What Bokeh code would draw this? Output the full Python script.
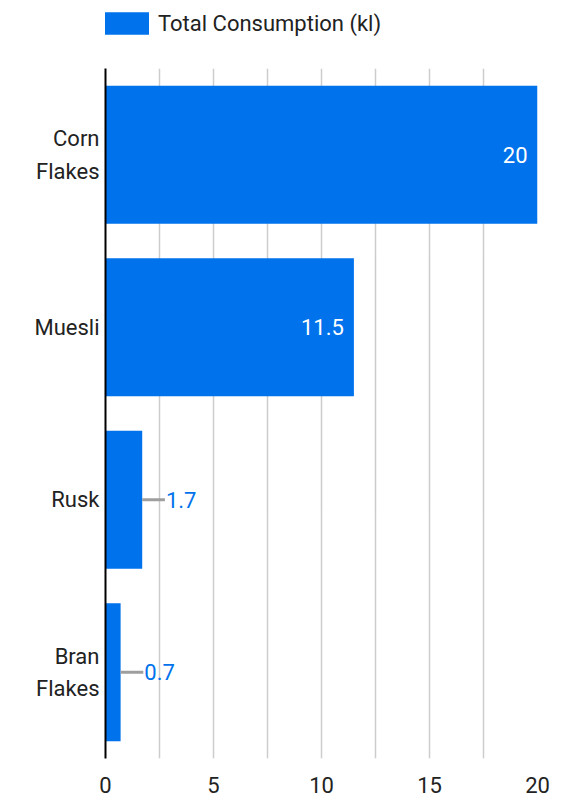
from bokeh.plotting import figure
from bokeh.layouts import column
from bokeh.models import (ColumnDataSource, FactorRange, Range1d, LabelSet, Legend,
                          LegendItem, SingleIntervalTicker)
from bokeh.core.properties import value
from bokeh.embed import file_html
from bokeh.resources import INLINE

categories = ["Corn\nFlakes", "Muesli", "Rusk", "Bran\nFlakes"]
values = [20, 11.5, 1.7, 0.7]
value_labels = ["20", "11.5", "1.7", "0.7"]
series_name = "Total Consumption (kl)"

BLUE = "#0072EB"
FONT = "Roboto"
TEXT = "#222222"
INSIDE_MIN = 5
LEADER = 1.05

inside = [i for i, v in enumerate(values) if v >= INSIDE_MIN]
outside = [i for i, v in enumerate(values) if v < INSIDE_MIN]

src = ColumnDataSource(dict(cat=categories, val=values, lab=value_labels))
src_in = ColumnDataSource(dict(cat=[categories[i] for i in inside],
                               val=[values[i] for i in inside],
                               lab=[value_labels[i] for i in inside]))
src_out = ColumnDataSource(dict(cat=[categories[i] for i in outside],
                                val=[values[i] for i in outside],
                                end=[values[i] + LEADER for i in outside],
                                lab=[value_labels[i] for i in outside]))

# ---- legend strip (its series renderer is kept out of the strip's view) ----
pl = figure(width=570, height=68,
            x_range=Range1d(21, 22),
            y_range=FactorRange(factors=categories[::-1]),
            output_backend="svg", toolbar_location=None,
            min_border_left=0, min_border_right=0, min_border_top=0,
            min_border_bottom=0)
pl.axis.visible = False
pl.grid.visible = False
pl.outline_line_color = None
proxy = pl.hbar(y="cat", right="val", left=0, height=0, source=src,
                fill_color=BLUE, line_color=None)
legend = Legend(items=[LegendItem(label=series_name, renderers=[proxy])],
                location=(-6, 31), orientation="horizontal",
                margin=0, padding=0, glyph_width=55, glyph_height=28,
                label_standoff=4, border_line_color=None,
                background_fill_alpha=0,
                label_text_font=FONT, label_text_font_size="22px",
                label_text_color=TEXT)
pl.add_layout(legend, "center")

# ---- main chart ----
p = figure(width=570, height=729,
           y_range=FactorRange(factors=categories[::-1], range_padding=0),
           x_range=Range1d(0, 20),
           output_backend="svg", toolbar_location=None,
           min_border_left=105, min_border_right=33,
           min_border_top=0, min_border_bottom=39)
p.outline_line_color = None
p.background_fill_color = "white"

p.hbar(y="cat", right="val", left=0, height=0.8, source=src,
       fill_color=BLUE, line_color=None)

p.segment(x0="val", y0="cat", x1="end", y1="cat", source=src_out,
          line_color="#9e9e9e", line_width=3)

p.add_layout(LabelSet(x="val", y="cat", text="lab", source=src_in,
                      x_offset=-10, text_align="right", text_baseline="middle",
                      text_color="white", text_font=value(FONT),
                      text_font_size="22px"))
p.add_layout(LabelSet(x="end", y="cat", text="lab", source=src_out,
                      x_offset=1, text_align="left", text_baseline="middle",
                      text_color=BLUE, text_font=value(FONT),
                      text_font_size="22px"))

# grid
p.ygrid.grid_line_color = None
p.xgrid.ticker = SingleIntervalTicker(interval=2.5)
p.xgrid.grid_line_color = "#cccccc"
p.xgrid.grid_line_width = 1.5

# x axis
p.xaxis.ticker = SingleIntervalTicker(interval=5)
p.xaxis.axis_line_color = None
p.xaxis.major_tick_line_color = None
p.xaxis.minor_tick_line_color = None
p.xaxis.major_label_standoff = 12
p.xaxis.major_label_text_font = FONT
p.xaxis.major_label_text_font_size = "22px"
p.xaxis.major_label_text_color = TEXT

# y axis
p.yaxis.axis_line_color = "black"
p.yaxis.axis_line_width = 2
p.yaxis.major_tick_line_color = None
p.yaxis.minor_tick_line_color = None
p.yaxis.major_label_standoff = 0
p.yaxis.major_label_text_font = FONT
p.yaxis.major_label_text_font_size = "22px"
p.yaxis.major_label_text_color = TEXT
p.yaxis.major_label_text_line_height = 1.3

layout = column(pl, p, spacing=0)
open("out.html", "w").write(file_html(layout, INLINE))
